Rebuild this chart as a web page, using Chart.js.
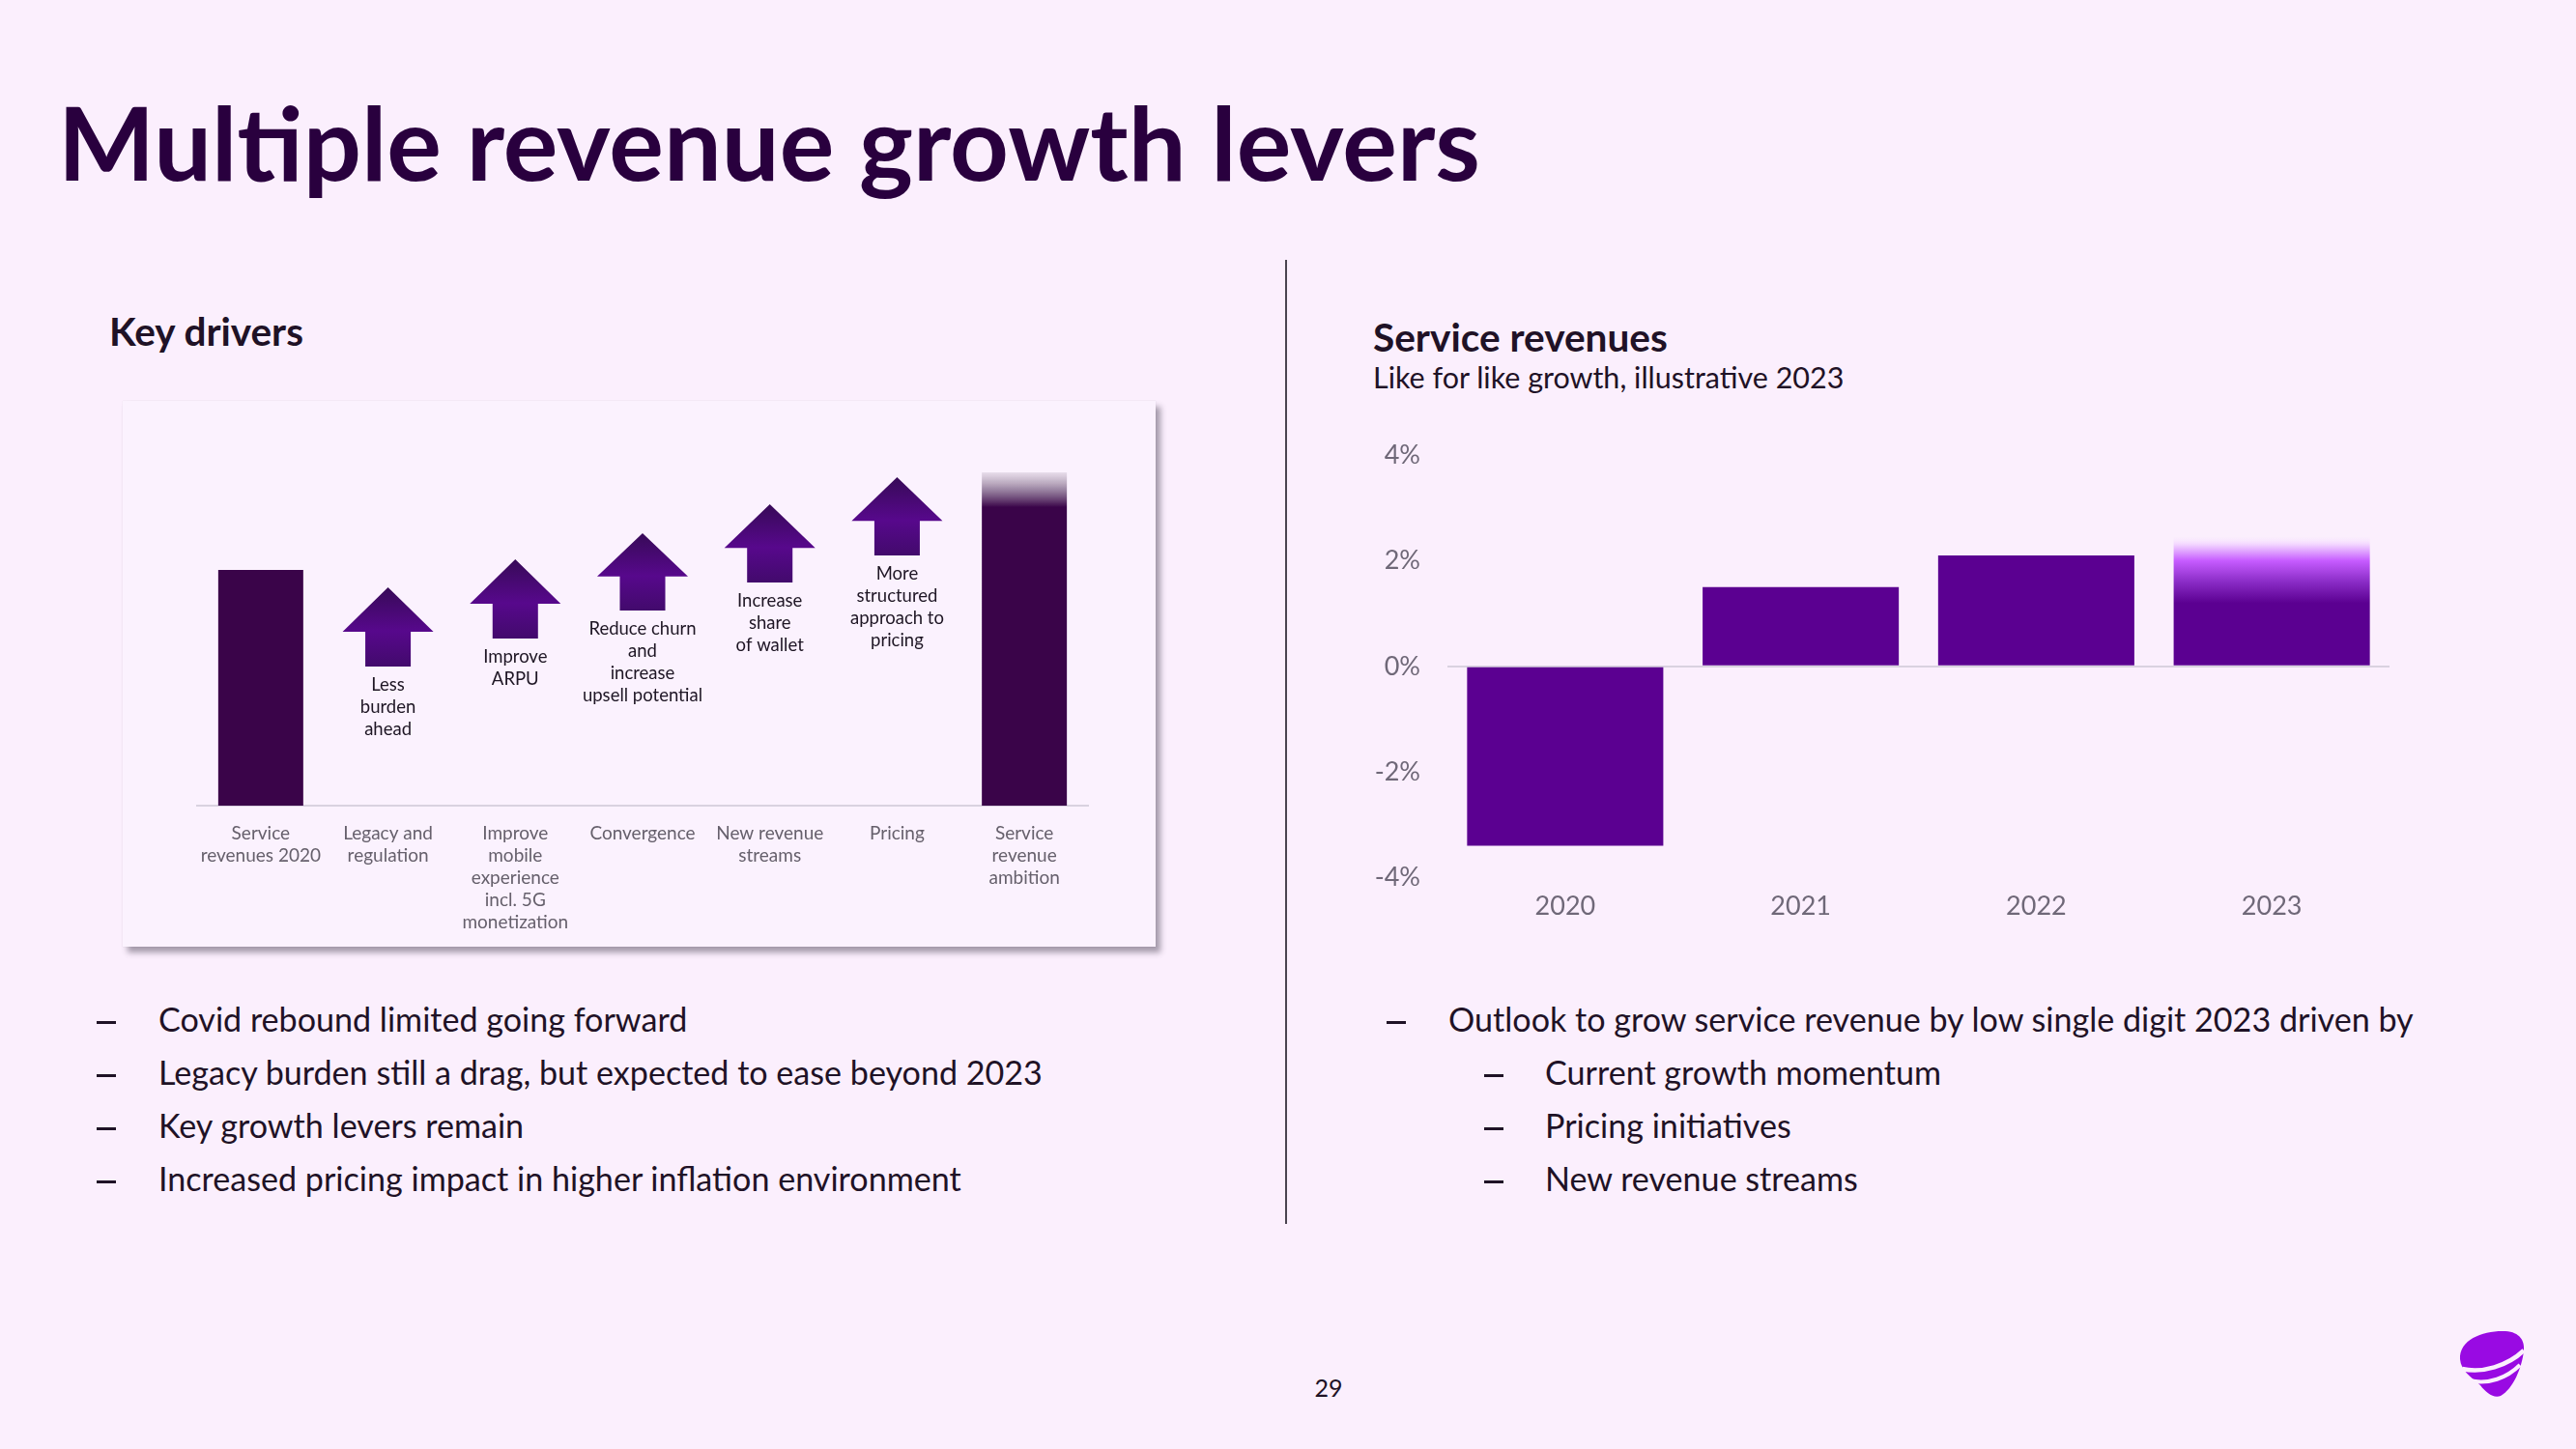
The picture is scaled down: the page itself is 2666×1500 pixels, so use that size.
<!DOCTYPE html>
<html><head><meta charset="utf-8">
<script src="https://cdn.jsdelivr.net/npm/chart.js@4.4.1/dist/chart.umd.min.js"></script>
<style>
html,body{margin:0;padding:0;}
body{width:2666px;height:1500px;background:#fbeffd;position:relative;overflow:hidden;font-family:Lato,"Noto Sans",sans-serif;}
.t{position:absolute;white-space:nowrap;line-height:normal;}
.dash{position:absolute;width:20px;height:2.5px;background:#1f1226;}
#box{position:absolute;left:127px;top:415px;width:1069px;height:565px;background:#fbf2fe;box-shadow:0 0 1px rgba(0,0,0,0.12),5px 6px 6px rgba(60,50,70,0.45);}
#c1{position:absolute;left:127px;top:415px;width:1069px;height:565px;}
#c2{position:absolute;left:1400px;top:427px;width:1100px;height:553px;}
#divider{position:absolute;left:1330px;top:269px;width:2px;height:998px;background:#4a4450;}
#logo{position:absolute;left:2543px;top:1374px;width:72px;height:74px;}
</style>
</head><body>
<div id="box"></div>
<canvas id="c1" width="1069" height="565"></canvas>
<canvas id="c2" width="1100" height="553"></canvas>
<div id="divider"></div>
<svg id="logo" viewBox="0 0 72 74">
  <path d="M3,33 C2,12 28,3 50,4 C65,5 70,14 69,24 C67,42 58,64 45,71 C38,74 30,68 24,60 C14,51 4,45 3,33 Z" fill="#990ae3"/>
  <path d="M5,43 C26,48 52,40 69,24" stroke="#fbeffd" stroke-width="4.5" fill="none"/>
  <path d="M13,55 C32,60 52,52 65,39" stroke="#fbeffd" stroke-width="4" fill="none"/>
</svg>
<script>
// ---------- DATA ----------
const driverCategories = [
  ["Service","revenues 2020"],["Legacy and","regulation"],["Improve","mobile","experience","incl. 5G","monetization"],
  ["Convergence"],["New revenue","streams"],["Pricing"],["Service","revenue","ambition"]
];
const totalValues = [61, null, null, null, null, null, 86.25];
const ambitionSolidFrom = 77.25;
const driverLow  = [null, 36, 43.25, 50.5, 57.75, 64.75, null];
const driverHigh = [null, 56.5, 63.75, 70.5, 78, 85, null];
const driverLabels = [
  null, ["Less","burden","ahead"], ["Improve","ARPU"], ["Reduce churn","and","increase","upsell potential"],
  ["Increase","share","of wallet"], ["More","structured","approach to","pricing"], null
];
const years = ["2020","2021","2022","2023"];
const growth = [-3.4, 1.5, 2.1, 2.45];
const growthTicks = [-4, -2, 0, 2, 4];

const leftBullets = [
  "Covid rebound limited going forward",
  "Legacy burden still a drag, but expected to ease beyond 2023",
  "Key growth levers remain",
  "Increased pricing impact in higher inflation environment"
];
const rightBullets = [
  {t:"Outlook to grow service revenue by low single digit 2023 driven by", lvl:0},
  {t:"Current growth momentum", lvl:1},
  {t:"Pricing initiatives", lvl:1},
  {t:"New revenue streams", lvl:1}
];

// ---------- TEXT ----------
const mctx = document.createElement('canvas').getContext('2d');
function addText(t, x, baseline, fs, wt, color, align) {
  const el = document.createElement('div');
  el.className = 't';
  el.textContent = t;
  el.style.fontSize = fs + 'px';
  el.style.fontWeight = wt;
  el.style.color = color;
  document.body.appendChild(el);
  mctx.font = wt + ' ' + fs + 'px Lato';
  const m = mctx.measureText(t);
  el.style.top = (baseline - m.fontBoundingBoxAscent) + 'px';
  const w = el.getBoundingClientRect().width;
  el.style.left = (align === 'center' ? x - w / 2 : x) + 'px';
  return el;
}
function addDash(x, baseline) {
  const d = document.createElement('div');
  d.className = 'dash';
  d.style.left = x + 'px';
  d.style.top = (baseline - 11) + 'px';
  document.body.appendChild(d);
}
function fitSize(t, fs, wt, targetW) {
  mctx.font = wt + ' ' + fs + 'px Lato';
  return fs * targetW / mctx.measureText(t).width;
}
const dark = '#1f1226';
addText("Multiple revenue growth levers", 60, 187, fitSize("Multiple revenue growth levers", 92, 700, 1472), 700, '#29003e');
addText("Key drivers", 113, 358, fitSize("Key drivers", 36, 700, 202), 700, dark);
addText("Service revenues", 1421, 364, fitSize("Service revenues", 36, 700, 305), 700, dark);
addText("Like for like growth, illustrative 2023", 1421, 402, fitSize("Like for like growth, illustrative 2023", 29, 400, 488), 400, dark);

const bfs = fitSize(leftBullets[1], 32, 400, 916);
const baselines = [1068, 1123, 1178, 1233];
leftBullets.forEach((b, i) => {
  addDash(100, baselines[i]);
  addText(b, 164, baselines[i], bfs, 400, dark);
});
rightBullets.forEach((b, i) => {
  addDash(b.lvl ? 1536 : 1435, baselines[i]);
  addText(b.t, b.lvl ? 1599 : 1499, baselines[i], bfs, 400, dark);
});
addText("29", 1375, 1446, 25, 400, dark, 'center');

// ---------- CHARTS ----------
Chart.defaults.font.family = 'Lato';
Chart.defaults.animation = false;
const totalColor = '#3a0449';

const arrowPlugin = {
  id: 'arrows',
  afterDatasetsDraw(chart) {
    const meta = chart.getDatasetMeta(1);
    const ctx = chart.ctx;
    ctx.save();
    meta.data.forEach((el, i) => {
      if (driverLow[i] == null) return;
      const p = el.getProps(['x', 'y', 'base', 'width'], true);
      const top = Math.min(p.y, p.base), bot = Math.max(p.y, p.base);
      const x = p.x, hw = p.width / 2, sw = p.width * 0.25;
      const headBase = bot - (bot - top) * 0.44;
      const g = ctx.createLinearGradient(0, top, 0, bot);
      g.addColorStop(0, '#370a57');
      g.addColorStop(0.55, '#57088c');
      g.addColorStop(1, '#420a6c');
      ctx.fillStyle = g;
      ctx.beginPath();
      ctx.moveTo(x, top);
      ctx.lineTo(x + hw, headBase);
      ctx.lineTo(x + sw, headBase);
      ctx.lineTo(x + sw, bot);
      ctx.lineTo(x - sw, bot);
      ctx.lineTo(x - sw, headBase);
      ctx.lineTo(x - hw, headBase);
      ctx.closePath();
      ctx.fill();
      ctx.font = '18.5px Lato';
      ctx.fillStyle = '#1e1624';
      ctx.textAlign = 'center';
      ctx.textBaseline = 'middle';
      driverLabels[i].forEach((line, k) => ctx.fillText(line, x, bot + 19 + k * 23));
    });
    ctx.restore();
  }
};

new Chart(document.getElementById('c1'), {
  type: 'bar',
  data: {
    labels: driverCategories,
    datasets: [
      {
        data: totalValues,
        grouped: false,
        barPercentage: 0.668,
        categoryPercentage: 1,
        backgroundColor(c) {
          const chart = c.chart;
          if (c.dataIndex !== 6 || !chart.chartArea) return totalColor;
          const ys = chart.scales.y;
          const top = ys.getPixelForValue(totalValues[6]);
          const solid = ys.getPixelForValue(ambitionSolidFrom);
          const g = chart.ctx.createLinearGradient(0, top, 0, solid);
          g.addColorStop(0, 'rgba(120,100,125,0.15)');
          g.addColorStop(0.45, 'rgba(90,60,100,0.55)');
          g.addColorStop(1, totalColor);
          return g;
        }
      },
      {
        data: driverLow.map((l, i) => l == null ? null : [l, driverHigh[i]]),
        grouped: false,
        barPercentage: 0.714,
        categoryPercentage: 1,
        backgroundColor: 'rgba(0,0,0,0)'
      }
    ]
  },
  options: {
    responsive: false,
    layout: {padding: {left: 77, right: 70, top: 19, bottom: 0}},
    plugins: {legend: {display: false}, tooltip: {enabled: false}},
    scales: {
      x: {
        grid: {display: false},
        border: {display: true, color: '#d9d2e0', width: 2},
        ticks: {color: '#66606c', font: {size: 19, lineHeight: '23px'}, padding: 9, maxRotation: 0, autoSkip: false},
        afterFit(s) { s.height = 146; }
      },
      y: {display: false, min: 0, max: 100}
    }
  },
  plugins: [arrowPlugin]
});

const barColor = '#5b0091';
new Chart(document.getElementById('c2'), {
  type: 'bar',
  data: {
    labels: years,
    datasets: [{
      data: growth,
      barPercentage: 0.833,
      categoryPercentage: 1,
      backgroundColor(c) {
        const chart = c.chart;
        if (c.dataIndex !== 3 || !chart.chartArea) return barColor;
        const ys = chart.scales.y;
        const top = ys.getPixelForValue(growth[3]);
        const bot = ys.getPixelForValue(0);
        const g = chart.ctx.createLinearGradient(0, top, 0, bot);
        const f = v => (top - ys.getPixelForValue(v)) / (top - bot);
        g.addColorStop(0, 'rgba(250,235,255,0.2)');
        g.addColorStop(Math.max(0, f(2.3)), '#f1d2ff');
        g.addColorStop(f(2.0), '#c65cff');
        g.addColorStop(f(1.6), '#8a2cc6');
        g.addColorStop(f(1.2), barColor);
        g.addColorStop(1, barColor);
        return g;
      }
    }]
  },
  options: {
    responsive: false,
    layout: {padding: {left: 0, right: 27, top: 0, bottom: 11.6}},
    plugins: {legend: {display: false}, tooltip: {enabled: false}},
    scales: {
      x: {
        grid: {display: false},
        border: {display: false},
        ticks: {color: '#6f6878', font: {size: 27}, padding: 6},
        afterFit(s) { s.height = 60; }
      },
      y: {
        min: -4, max: 4,
        afterBuildTicks(s) { s.ticks = growthTicks.map(v => ({value: v})); },
        grid: {drawTicks: false, lineWidth: 2, color: c => c.tick && c.tick.value === 0 ? '#d9d2e0' : 'rgba(0,0,0,0)'},
        border: {display: false},
        ticks: {color: '#6f6878', font: {size: 27}, padding: 28, callback: v => v + '%'},
        afterFit(s) { s.width = 98; }
      }
    }
  }
});
</script>
</body></html>
